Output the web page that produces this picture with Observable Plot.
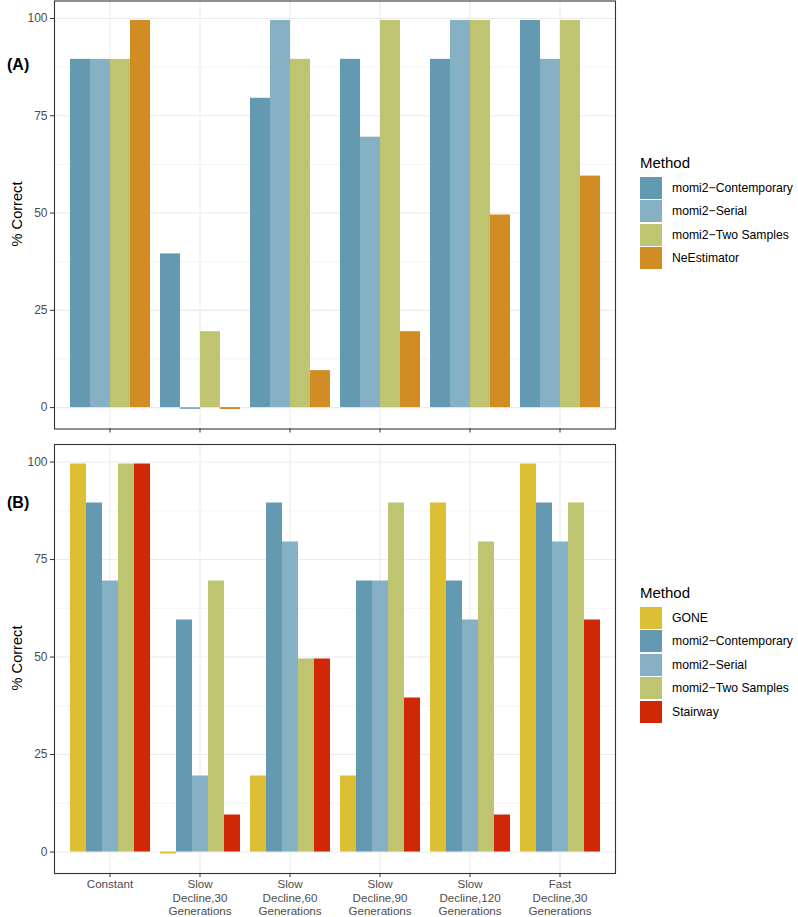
<!DOCTYPE html>
<html>
<head>
<meta charset="utf-8">
<script src="https://cdn.jsdelivr.net/npm/d3@7"></script>
<script src="https://cdn.jsdelivr.net/npm/@observablehq/plot@0.6"></script>
<style>
  html, body { margin: 0; padding: 0; background: #fff; }
  body { font-family: Arial, "Liberation Sans", Helvetica, sans-serif; }
  #root { position: relative; width: 798px; height: 917px; overflow: hidden; }
  .layer { position: absolute; left: 0; }
  .tag { position: absolute; left: 7px; font-weight: bold; font-size: 16px; color: #000; line-height: 1; }
  .ylab { position: absolute; font-size: 14.6px; color: #000; transform: translate(-50%, -50%) rotate(-90deg); white-space: nowrap; line-height: 1; }
  .legend { position: absolute; left: 640px; }
  .legend .title { font-size: 15px; color: #000; height: 20px; line-height: 20px; margin-bottom: 4px; }
  .legend .item { display: flex; align-items: center; height: 22px; margin-bottom: 1.4px; }
  .legend .sw { width: 22px; height: 22px; margin-right: 10px; }
  .legend .lab { font-size: 12.2px; color: #000; white-space: nowrap; }
</style>
</head>
<body>
<div id="root"></div>
<script>
// ---------- data ----------
const categories = ["Constant", "Slow30", "Slow60", "Slow90", "Slow120", "Fast30"];
const tickLabels = ["Constant", "Slow\nDecline,30\nGenerations", "Slow\nDecline,60\nGenerations",
  "Slow\nDecline,90\nGenerations", "Slow\nDecline,120\nGenerations", "Fast\nDecline,30\nGenerations"];

const methodsA = ["momi2\u2212Contemporary", "momi2\u2212Serial", "momi2\u2212Two Samples", "NeEstimator"];
const colorsA = ["#6499b2", "#86b0c3", "#bec470", "#d18c24"];
// values (% correct) as drawn, per category in order of categories
const aContemporary = [89.5, 39.5, 79.5, 89.5, 89.5, 99.5];
const aSerial       = [89.5, -0.5, 99.5, 69.5, 99.5, 89.5];
const aTwoSamples   = [89.5, 19.5, 89.5, 99.5, 99.5, 99.5];
const aNeEstimator  = [99.5, -0.5, 9.5, 19.5, 49.5, 59.5];

const methodsB = ["GONE", "momi2\u2212Contemporary", "momi2\u2212Serial", "momi2\u2212Two Samples", "Stairway"];
const colorsB = ["#dcbf35", "#6499b2", "#86b0c3", "#bec470", "#d02806"];
const bGone         = [99.5, -0.5, 19.5, 19.5, 89.5, 99.5];
const bContemporary = [89.5, 59.5, 89.5, 69.5, 69.5, 89.5];
const bSerial       = [69.5, 19.5, 79.5, 69.5, 59.5, 79.5];
const bTwoSamples   = [99.5, 69.5, 49.5, 89.5, 79.5, 89.5];
const bStairway     = [99.5, 9.5, 49.5, 39.5, 9.5, 59.5];

const yTicks = [0, 25, 50, 75, 100];
const yMinor = [12.5, 37.5, 62.5, 87.5];
const yDomain = [-5.5, 104.5];

// ---------- build tables ----------
function table(methods, series) {
  const rows = [];
  categories.forEach((c, i) => methods.forEach((m, j) => rows.push({cat: c, method: m, value: series[j][i]})));
  return rows;
}
const dataA = table(methodsA, [aContemporary, aSerial, aTwoSamples, aNeEstimator]);
const dataB = table(methodsB, [bGone, bContemporary, bSerial, bTwoSamples, bStairway]);

const W = 620, ML = 54, MR = 5;
const FONT = "Arial, 'Liberation Sans', Helvetica, sans-serif";
const root = document.getElementById("root");

function background(h, mt, mb, withLabels) {
  const labelOf = new Map(categories.map((c, i) => [c, tickLabels[i]]));
  return Plot.plot({
    width: W, height: h, marginLeft: ML, marginRight: MR, marginTop: mt, marginBottom: mb,
    style: {fontFamily: FONT, background: "white", overflow: "visible"},
    x: {type: "band", domain: categories, paddingInner: 0.1, paddingOuter: 0.15},
    y: {domain: yDomain},
    marks: [
      Plot.gridY(yMinor, {stroke: "#ebebeb", strokeOpacity: 1, strokeWidth: 0.6}),
      Plot.gridY(yTicks, {stroke: "#ebebeb", strokeOpacity: 1, strokeWidth: 1.1}),
      Plot.gridX(categories, {stroke: "#ebebeb", strokeOpacity: 1, strokeWidth: 1.1}),
      Plot.axisY(yTicks, {tickSize: 4, tickPadding: 3, fontSize: 12, stroke: "#333", fill: "#4d4d4d", label: null}),
      Plot.axisX(categories, {tickSize: 4, tickPadding: 1, fontSize: 11.6, lineHeight: 1.16, stroke: "#333", fill: "#4d4d4d", label: null,
        tickFormat: withLabels ? (d => labelOf.get(d)) : () => ""})
    ]
  });
}

function bars(h, mt, mb, data, methods, colors) {
  return Plot.plot({
    width: W, height: h, marginLeft: ML, marginRight: MR, marginTop: mt, marginBottom: mb,
    style: {fontFamily: FONT, background: "transparent"},
    fx: {domain: categories, paddingInner: 0.1, paddingOuter: 0.15, axis: null, label: null},
    x: {domain: methods, padding: 0, axis: null, label: null},
    y: {domain: yDomain, axis: null, label: null},
    color: {domain: methods, range: colors},
    marks: [
      Plot.barY(data, {fx: "cat", x: "method", y: "value", fill: "method", inset: 0})
    ]
  });
}

function frameLayer(h, mt, mb) {
  return Plot.plot({
    width: W, height: h, marginLeft: ML, marginRight: MR, marginTop: mt, marginBottom: mb,
    style: {background: "transparent"},
    x: {domain: [0, 1], axis: null}, y: {domain: yDomain, axis: null},
    marks: [Plot.frame({stroke: "#333", strokeWidth: 1.1})]
  });
}

function addLayer(el, top) {
  el.classList.add("layer");
  el.style.top = top + "px";
  root.appendChild(el);
}

// Panel A
const hA = 440, mtA = 0.5, mbA = 11.5;
addLayer(background(hA, mtA, mbA, false), 0);
addLayer(bars(hA, mtA, mbA, dataA, methodsA, colorsA), 0);
addLayer(frameLayer(hA, mtA, mbA), 0);

// Panel B
const hB = 477, mtB = 4, mbB = 44;
addLayer(background(hB, mtB, mbB, true), 440);
addLayer(bars(hB, mtB, mbB, dataB, methodsB, colorsB), 440);
addLayer(frameLayer(hB, mtB, mbB), 440);

// Text overlays
function div(cls, text, style) {
  const d = document.createElement("div");
  d.className = cls; d.textContent = text;
  Object.assign(d.style, style);
  root.appendChild(d);
  return d;
}
div("tag", "(A)", {top: "57px"});
div("tag", "(B)", {top: "495px"});
div("ylab", "% Correct", {left: "17px", top: "214px"});
div("ylab", "% Correct", {left: "17px", top: "658px"});

function legend(top, methods, colors) {
  const lg = document.createElement("div");
  lg.className = "legend";
  lg.style.top = top + "px";
  const t = document.createElement("div");
  t.className = "title"; t.textContent = "Method";
  lg.appendChild(t);
  methods.forEach((m, i) => {
    const it = document.createElement("div"); it.className = "item";
    const sw = document.createElement("div"); sw.className = "sw"; sw.style.background = colors[i];
    const lb = document.createElement("div"); lb.className = "lab"; lb.textContent = m;
    it.appendChild(sw); it.appendChild(lb); lg.appendChild(it);
  });
  root.appendChild(lg);
}
legend(153, methodsA, colorsA);
legend(583, methodsB, colorsB);
</script>
</body>
</html>
